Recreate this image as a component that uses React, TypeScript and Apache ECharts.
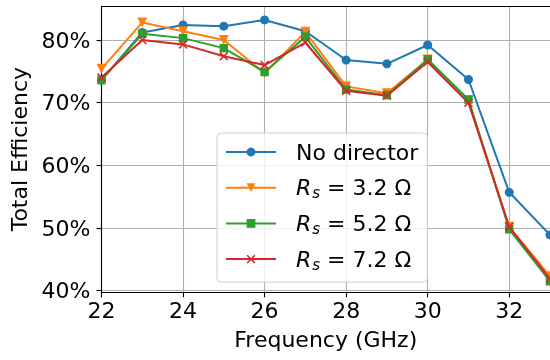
import React, { useEffect, useRef } from 'react';
import * as echarts from 'echarts';

const frequencies = [22, 23, 24, 25, 26, 27, 28, 29, 30, 31, 32, 33];
const noDirector = [73.6, 81.2, 82.4, 82.2, 83.2, 81.4, 76.8, 76.2, 79.2, 73.7, 55.7, 48.9];
const rs32 = [75.4, 82.8, 81.4, 80.0, 74.7, 81.3, 72.6, 71.5, 76.9, 70.4, 50.2, 42.3];
const rs52 = [73.6, 81.0, 80.3, 78.7, 74.9, 80.5, 72.1, 71.2, 76.9, 70.5, 49.8, 41.5];
const rs72 = [74.0, 80.0, 79.3, 77.4, 76.0, 79.6, 71.9, 71.1, 76.5, 70.0, 50.2, 41.9];
const xTicks = [22, 24, 26, 28, 30, 32];
const yTicks = [40, 50, 60, 70, 80];
const seriesNames = ['No director', 'Rs = 3.2 Ω', 'Rs = 5.2 Ω', 'Rs = 7.2 Ω'];

const FONT = 'DejaVu Sans';
const COLORS = ['#1f77b4', '#ff7f0e', '#2ca02c', '#d62728'];
const X_SYMBOL =
  'path://M0,1.2L1.2,0L5,3.8L8.8,0L10,1.2L6.2,5L10,8.8L8.8,10L5,6.2L1.2,10L0,8.8L3.8,5Z';

export default function App() {
  const ref = useRef<HTMLDivElement>(null);
  useEffect(() => {
    if (!ref.current) return;
    const chart = echarts.init(ref.current, null, { renderer: 'svg' });
    const values = [noDirector, rs32, rs52, rs72];
    const symbols = ['circle', 'triangle', 'rect', X_SYMBOL];
    const sizes = [9, 10, 8.5, 9];
    const rotates = [0, 180, 0, 0];
    chart.setOption({
      animation: false,
      textStyle: { fontFamily: FONT },
      grid: { left: 101.5, right: -2, top: 6, bottom: 67.7, containLabel: false },
      legend: {
        show: true,
        orient: 'vertical',
        left: 217,
        top: 133,
        padding: [6, 9, 10, 8],
        itemWidth: 50,
        itemHeight: 11,
        itemGap: 9.7,
        selectedMode: false,
        backgroundColor: 'rgba(255,255,255,0.8)',
        borderColor: '#d0d0d0',
        borderWidth: 1,
        borderRadius: 4,
        data: seriesNames,
        formatter: (name: string) => {
          if (name.startsWith('Rs = ')) {
            return '{g| }{it|R}{sub|s}{n| = ' + name.slice(5) + '}';
          }
          return '{g| }{n|' + name + '}';
        },
        textStyle: {
          fontFamily: FONT,
          fontSize: 22,
          color: '#000',
          lineHeight: 26,
          rich: {
            g: { width: 15, fontSize: 22, lineHeight: 26 },
            n: { fontSize: 22, lineHeight: 26, fontFamily: FONT, color: '#000' },
            it: { fontSize: 22, lineHeight: 26, fontStyle: 'italic', fontFamily: FONT, color: '#000' },
            sub: {
              fontSize: 15,
              lineHeight: 15,
              padding: [11, 0, 0, 1],
              fontStyle: 'italic',
              fontFamily: FONT,
              color: '#000',
            },
          },
        },
      },
      xAxis: [
        {
          type: 'value',
          min: 22,
          max: 33,
          position: 'bottom',
          axisLine: { show: true, onZero: false, lineStyle: { color: '#000', width: 1.1 } },
          axisTick: { show: true, length: 5, customValues: xTicks, lineStyle: { color: '#000', width: 1.1 } },
          axisLabel: { customValues: xTicks, fontSize: 22, color: '#000', margin: 7, fontFamily: FONT },
          splitLine: { show: true, lineStyle: { color: '#b0b0b0', width: 1.1 } },
          name: 'Frequency (GHz)',
          nameLocation: 'middle',
          nameGap: 36,
          nameTextStyle: { fontSize: 22, color: '#000', fontFamily: FONT },
        },
        {
          type: 'value',
          min: 22,
          max: 33,
          position: 'top',
          axisLine: { show: true, onZero: false, lineStyle: { color: '#000', width: 1.1 } },
          axisTick: { show: false },
          axisLabel: { show: false },
          splitLine: { show: false },
        },
      ],
      yAxis: {
        type: 'value',
        min: 39.745,
        max: 85.425,
        axisLine: { show: true, onZero: false, lineStyle: { color: '#000', width: 1.1 } },
        axisTick: { show: true, length: 5, customValues: yTicks, lineStyle: { color: '#000', width: 1.1 } },
        axisLabel: {
          customValues: yTicks,
          fontSize: 22,
          color: '#000',
          margin: 11,
          fontFamily: FONT,
          formatter: (v: number) => v + '%',
        },
        splitLine: { show: true, lineStyle: { color: '#b0b0b0', width: 1.1 } },
        name: 'Total Efficiency',
        nameLocation: 'middle',
        nameGap: 68,
        nameTextStyle: { fontSize: 22, color: '#000', fontFamily: FONT },
      },
      series: seriesNames.map((name, k) => ({
        name,
        type: 'line',
        xAxisIndex: 0,
        data: frequencies.map((f, i) => [f, values[k][i]]),
        symbol: symbols[k],
        symbolSize: sizes[k],
        symbolRotate: rotates[k],
        showSymbol: true,
        clip: true,
        lineStyle: { width: 2, color: COLORS[k] },
        itemStyle: { color: COLORS[k] },
        emphasis: { disabled: true },
        z: 2 + k,
      })),
    });
    return () => chart.dispose();
  }, []);
  return <div ref={ref} style={{ position: 'fixed', left: 0, top: 0, width: 550, height: 360 }} />;
}
